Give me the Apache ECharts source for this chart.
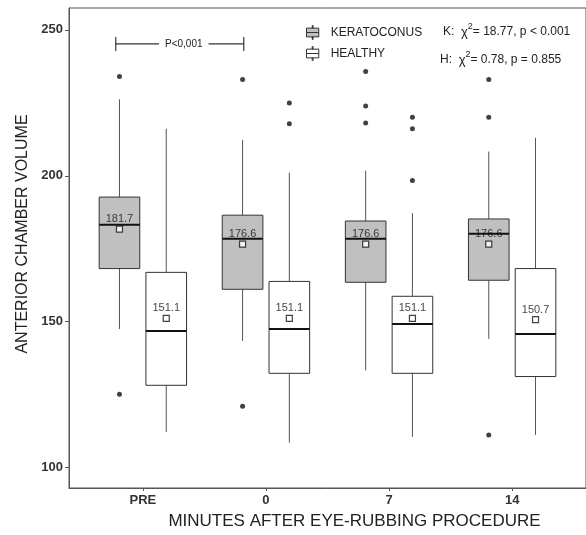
<!DOCTYPE html>
<html>
<head>
<meta charset="utf-8">
<script src="https://cdn.jsdelivr.net/npm/echarts@6/dist/echarts.min.js"></script>
<style>
  html, body { margin: 0; padding: 0; background: #fff; }
  #chart { width: 586px; height: 535px; }
</style>
</head>
<body>
<div id="chart"></div>
<script>
var myChart = echarts.init(document.getElementById('chart'));

// time points
var categories = ['PRE', '0', '7', '14'];

// [low whisker, Q1, median, Q3, high whisker]
var keratoconusBox = [
    [147.5, 168.2, 183.2, 192.7, 226.2],
    [143.4, 161.1, 178.4, 186.5, 212.3],
    [133.3, 163.5, 178.4, 184.5, 201.8],
    [144.1, 164.2, 180.1, 185.2, 208.3]
];
var healthyBox = [
    [112.2, 128.2, 146.8, 166.9, 216.1],
    [108.5, 132.3, 147.5, 163.8, 201.1],
    [110.5, 132.3, 149.2, 158.7, 187.2],
    [111.2, 131.2, 145.8, 168.2, 213.0]
];

var keratoconusMean = [181.7, 176.6, 176.6, 176.6];
var healthyMean = [151.1, 151.1, 151.1, 150.7];

// [time index, value]
var keratoconusOutliers = [
    [0, 234.0], [0, 125.1],
    [1, 233.0], [1, 121.0],
    [2, 235.7], [2, 223.9], [2, 218.1],
    [3, 233.0], [3, 220.1], [3, 111.2]
];
var healthyOutliers = [
    [1, 224.9], [1, 217.8],
    [2, 220.1], [2, 216.1], [2, 198.4]
];

var yTicks = [100, 150, 200, 250];
var xTicks = [0, 1, 2, 3];

var dodge = 0.19;
var boxWidth = 0.33;

function boxData(boxes, off) {
    return boxes.map(function (b, i) {
        return [i + off].concat(b);
    });
}

function pointData(points, off) {
    return points.map(function (p) {
        return [p[0] + off, p[1]];
    });
}

function meanData(means, off) {
    return means.map(function (m, i) {
        return [i + off, m];
    });
}

function renderBox(fill) {
    return function (params, api) {
        var x = api.value(0);
        var lo = api.coord([x, api.value(1)]);
        var q1 = api.coord([x, api.value(2)]);
        var med = api.coord([x, api.value(3)]);
        var q3 = api.coord([x, api.value(4)]);
        var hi = api.coord([x, api.value(5)]);
        var w = api.size([boxWidth, 0])[0];
        var left = lo[0] - w / 2;
        return {
            type: 'group',
            children: [
                {
                    type: 'line',
                    shape: {x1: hi[0], y1: hi[1], x2: q3[0], y2: q3[1]},
                    style: {stroke: '#555', lineWidth: 1}
                },
                {
                    type: 'line',
                    shape: {x1: lo[0], y1: lo[1], x2: q1[0], y2: q1[1]},
                    style: {stroke: '#555', lineWidth: 1}
                },
                {
                    type: 'rect',
                    shape: {x: left, y: q3[1], width: w, height: q1[1] - q3[1]},
                    style: {fill: fill, stroke: '#333', lineWidth: 1}
                },
                {
                    type: 'line',
                    shape: {x1: left, y1: med[1], x2: left + w, y2: med[1]},
                    style: {stroke: '#111', lineWidth: 2}
                }
            ]
        };
    };
}

var boxIcon = 'path://M6.5,0h1v3h-1z M6.5,13h1v3h-1z M0,3h14v5h-14z M0,8h14v5h-14z';

myChart.setOption({
    backgroundColor: '#fff',
    animation: false,
    textStyle: {fontFamily: 'Liberation Sans, Arial, sans-serif'},
    grid: {
        left: 69,
        top: 8,
        width: 521,
        bottom: 42,
        show: true,
        borderColor: '#555',
        borderWidth: 1
    },
    legend: {
        orient: 'vertical',
        left: 301,
        top: 20,
        itemWidth: 14,
        itemHeight: 14,
        itemGap: 6,
        icon: boxIcon,
        textStyle: {fontSize: 12, color: '#222', padding: [0, 0, 0, 6]},
        data: [
            {name: 'KERATOCONUS', itemStyle: {color: '#c0c0c0', borderColor: '#333', borderWidth: 1}},
            {name: 'HEALTHY', itemStyle: {color: '#fff', borderColor: '#333', borderWidth: 1}}
        ]
    },
    graphic: [
        {
            type: 'text',
            left: 443,
            top: 22,
            style: {
                text: 'K:  {c|χ}{s|2}= 18.77, p < 0.001',
                font: '12px Liberation Sans, Arial, sans-serif',
                fill: '#222',
                lineHeight: 20,
                rich: {
                    c: {fontSize: 13, lineHeight: 20},
                    s: {fontSize: 9, lineHeight: 10, verticalAlign: 'top'}
                }
            }
        },
        {
            type: 'text',
            left: 440,
            top: 50,
            style: {
                text: 'H:  {c|χ}{s|2}= 0.78, p = 0.855',
                font: '12px Liberation Sans, Arial, sans-serif',
                fill: '#222',
                lineHeight: 20,
                rich: {
                    c: {fontSize: 13, lineHeight: 20},
                    s: {fontSize: 9, lineHeight: 10, verticalAlign: 'top'}
                }
            }
        }
    ],
    xAxis: {
        type: 'value',
        min: -0.6,
        max: 3.6,
        name: 'MINUTES AFTER EYE-RUBBING PROCEDURE',
        nameLocation: 'middle',
        nameGap: 25,
        nameTextStyle: {fontSize: 17, color: '#222', padding: [0, 0, 0, 54]},
        splitLine: {show: false},
        axisLine: {show: true, onZero: false, lineStyle: {color: '#555'}},
        axisTick: {show: true, length: 3, customValues: xTicks, lineStyle: {color: '#555'}},
        axisLabel: {
            customValues: xTicks,
            margin: 6,
            fontSize: 13,
            fontWeight: 'bold',
            color: '#333',
            formatter: function (v) {
                return categories[Math.round(v)];
            }
        }
    },
    yAxis: {
        type: 'value',
        min: 93,
        max: 257.5,
        name: 'ANTERIOR CHAMBER VOLUME',
        nameLocation: 'middle',
        nameGap: 36,
        nameTextStyle: {fontSize: 16, color: '#222', padding: [0, 0, 0, 28]},
        splitLine: {show: false},
        axisLine: {show: true, onZero: false, lineStyle: {color: '#555'}},
        axisTick: {show: true, length: 4, customValues: yTicks, lineStyle: {color: '#555'}},
        axisLabel: {
            customValues: yTicks,
            margin: 6,
            fontSize: 13,
            fontWeight: 'bold',
            color: '#333'
        }
    },
    series: [
        {
            name: 'KERATOCONUS',
            type: 'custom',
            renderItem: renderBox('#c0c0c0'),
            itemStyle: {color: '#c0c0c0'},
            encode: {x: 0, y: [1, 2, 3, 4, 5]},
            data: boxData(keratoconusBox, -dodge),
            z: 2
        },
        {
            name: 'HEALTHY',
            type: 'custom',
            renderItem: renderBox('#fff'),
            itemStyle: {color: '#fff'},
            encode: {x: 0, y: [1, 2, 3, 4, 5]},
            data: boxData(healthyBox, dodge),
            z: 2
        },
        {
            type: 'scatter',
            symbolSize: 5,
            itemStyle: {color: '#111'},
            data: pointData(keratoconusOutliers, -dodge).concat(pointData(healthyOutliers, dodge)),
            z: 3
        },
        {
            type: 'scatter',
            symbol: 'rect',
            symbolSize: 6,
            itemStyle: {color: '#fff', borderColor: '#111', borderWidth: 1.2},
            label: {
                show: true,
                position: 'top',
                distance: 1,
                fontSize: 11,
                color: '#111',
                formatter: function (p) {
                    return p.value[1].toFixed(1);
                }
            },
            data: meanData(keratoconusMean, -dodge).concat(meanData(healthyMean, dodge)),
            z: 4
        },
        {
            // comparison bracket PRE vs 0
            type: 'custom',
            renderItem: function (params, api) {
                var a = api.coord([api.value(0), api.value(2)]);
                var b = api.coord([api.value(1), api.value(2)]);
                var h = 7;
                var mid = (a[0] + b[0]) / 2 + 4;
                return {
                    type: 'group',
                    children: [
                        {type: 'line', shape: {x1: a[0], y1: a[1], x2: b[0], y2: b[1]}, style: {stroke: '#333', lineWidth: 1.2}},
                        {type: 'line', shape: {x1: a[0], y1: a[1] - h, x2: a[0], y2: a[1] + h}, style: {stroke: '#333', lineWidth: 1.2}},
                        {type: 'line', shape: {x1: b[0], y1: b[1] - h, x2: b[0], y2: b[1] + h}, style: {stroke: '#333', lineWidth: 1.2}},
                        {
                            type: 'text',
                            x: mid,
                            y: a[1],
                            style: {
                                text: 'P<0,001',
                                fontSize: 10,
                                fill: '#222',
                                align: 'center',
                                verticalAlign: 'middle',
                                backgroundColor: '#fff',
                                padding: [0, 6]
                            }
                        }
                    ]
                };
            },
            encode: {x: [0, 1], y: 2},
            data: [[-0.22, 0.82, 245.2]],
            z: 5
        }
    ]
});
</script>
</body>
</html>
